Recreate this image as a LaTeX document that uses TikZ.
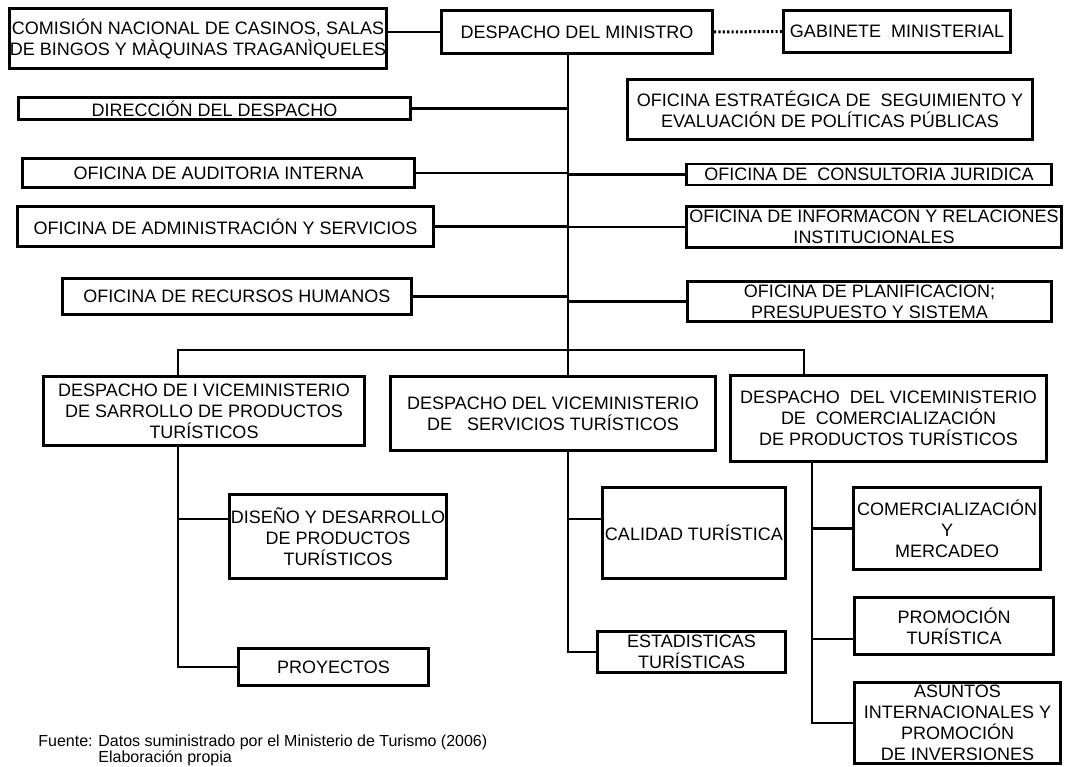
\documentclass[tikz,border=0pt]{standalone}
\usepackage{fontspec}
\setmainfont{Liberation Sans}
\usetikzlibrary{calc}
\usetikzlibrary{positioning}
\tikzset{every picture/.style={line width=2.8pt}}

\begin{document}
\begin{tikzpicture}[x=1pt,y=-1pt,ofi/.style={draw, rectangle, inner sep=0pt, align=center, font=\fontsize{18}{21}\selectfont},src/.style={anchor=base west, inner sep=0pt, font=\fontsize{16}{18}\selectfont},dots/.style={line width=3pt, dash pattern=on 2.2pt off 2.2pt}]
\useasboundingbox (0,0) rectangle (1083,767);
% top level
\node (com) at (198,38.5) [ofi,minimum width=377pt,minimum height=60pt] {COMISIÓN NACIONAL DE CASINOS, SALAS\\DE BINGOS Y MÀQUINAS TRAGANÌQUELES};
\node (min) at (577,32) [ofi,minimum width=271pt,minimum height=43pt] {DESPACHO DEL MINISTRO};
\node (gab) at (897,31.5) [ofi,minimum width=227pt,minimum height=42pt] {GABINETE \ MINISTERIAL};
\node (dir) at (214.5,108.5) [ofi,minimum width=392pt,minimum height=22pt] {DIRECCIÓN DEL DESPACHO};
\node (ofe) at (830,109.5) [ofi,minimum width=405pt,minimum height=60pt] {OFICINA ESTRATÉGICA DE \ SEGUIMIENTO Y\\EVALUACIÓN DE POLÍTICAS PÚBLICAS};
\node (aud) at (218.5,173) [ofi,minimum width=392pt,minimum height=29pt] {OFICINA DE AUDITORIA INTERNA};
\node (jur) at (869,174.5) [ofi,minimum width=365pt,minimum height=21pt] {OFICINA DE \ CONSULTORIA JURIDICA};
\node (adm) at (225.5,226.5) [ofi,minimum width=416pt,minimum height=40pt] {OFICINA DE ADMINISTRACIÓN Y SERVICIOS};
\node (inf) at (874,227) [ofi,minimum width=375pt,minimum height=41pt] {OFICINA DE INFORMACON Y RELACIONES\\INSTITUCIONALES};
\node (rh) at (237,296.5) [ofi,minimum width=349pt,minimum height=36pt] {OFICINA DE RECURSOS HUMANOS};
\node (pla) at (869.5,301.5) [ofi,minimum width=364pt,minimum height=40pt] {OFICINA DE PLANIFICACION;\\PRESUPUESTO Y SISTEMA};
% viceministerios
\node (V1) at (204,411) [ofi,minimum width=321pt,minimum height=69pt] {DESPACHO DE I VICEMINISTERIO\\DE SARROLLO DE PRODUCTOS\\TURÍSTICOS};
\node (V2) at (553,413.5) [ofi,minimum width=325pt,minimum height=74pt] {DESPACHO DEL VICEMINISTERIO\\DE \ \ SERVICIOS TURÍSTICOS};
\node (V3) at (888.5,418.5) [ofi,minimum width=316pt,minimum height=86pt] {DESPACHO \ DEL VICEMINISTERIO\\DE \ COMERCIALIZACIÓN\\DE PRODUCTOS TURÍSTICOS};
\node (dis) at (338,536.5) [ofi,minimum width=217pt,minimum height=84pt] {DISEÑO Y DESARROLLO\\DE PRODUCTOS\\TURÍSTICOS};
\node (pry) at (333.5,667) [ofi,minimum width=190pt,minimum height=37pt] {PROYECTOS};
\node (cal) at (694,533) [ofi,minimum width=183pt,minimum height=91pt] {CALIDAD TURÍSTICA};
\node (est) at (691.5,652) [ofi,minimum width=188pt,minimum height=41pt] {ESTADISTICAS\\TURÍSTICAS};
\node (mer) at (947,528.5) [ofi,minimum width=187pt,minimum height=82pt] {COMERCIALIZACIÓN\\Y\\MERCADEO};
\node (prm) at (954,626) [ofi,minimum width=199pt,minimum height=57pt] {PROMOCIÓN\\TURÍSTICA};
\node (asu) at (957.5,723) [ofi,minimum width=206pt,minimum height=81pt] {ASUNTOS\\INTERNACIONALES Y\\PROMOCIÓN\\DE INVERSIONES};
% connectors
\coordinate (t) at (568,0);
\coordinate (h1) at (178,350);
\coordinate (h3) at (804,350);
\coordinate (h4) at (812,0);
\draw (com.east |- min.west) -- (min.west);
\draw[dots] (min.east) -- (gab.west);
\draw (min.south -| t) -- (V2.north -| t);
\foreach \n in {dir,aud,adm,rh} {
\draw (\n.east) -- (\n.east -| t);
}
\foreach \n in {jur,inf,pla} {
\draw (\n.west) -- (\n.west -| t);
}
\draw (V1.north -| h1) -- (h1) -- (h3) -- (V3.north -| h3);
\coordinate (dis-in) at ([yshift=17.5pt]dis.west);
\coordinate (cal-in) at ([yshift=14pt]cal.west);
\coordinate (prm-in) at ([yshift=-13pt]prm.west);
\draw (V1.south -| h1) -- (pry.west -| h1) -- (pry.west);
\draw (dis-in) -- (dis-in -| h1);
\draw (V2.south -| t) -- (est.west -| t) -- (est.west);
\draw (cal-in) -- (cal-in -| t);
\draw (V3.south -| h4) -- (asu.west -| h4) -- (asu.west);
\draw (mer.west) -- (mer.west -| h4);
\draw (prm-in) -- (prm-in -| h4);
% source
\node (f1) at (37,746) [src] {Fuente:};
\node (f2) at (97,746) [src] {Datos suministrado por el Ministerio de Turismo (2006)};
\node (f3) at (97,762) [src] {Elaboración propia};
\end{tikzpicture}
\end{document}
